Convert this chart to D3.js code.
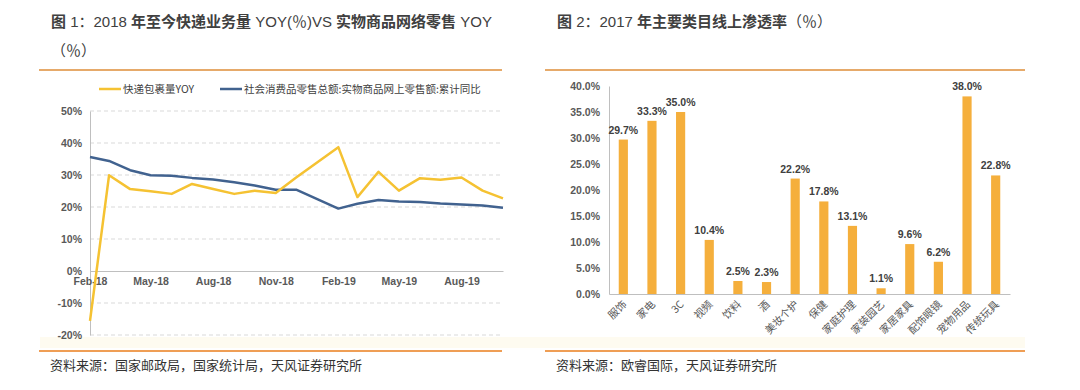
<!DOCTYPE html>
<html>
<head>
<meta charset="utf-8">
<script src="https://cdn.jsdelivr.net/npm/d3@7"></script>
<style>
  body { margin: 0; background: #fff; }
  svg { display: block; font-family: "Liberation Sans", "Noto Sans CJK SC", sans-serif; }
</style>
</head>
<body>
<svg id="chart" width="1080" height="390"></svg>
<script>
// figure 1 data (Jan-19 is not reported, Jan-Feb combined)
const months = ['Feb-18','Mar-18','Apr-18','May-18','Jun-18','Jul-18','Aug-18','Sep-18','Oct-18','Nov-18','Dec-18',
                'Feb-19','Mar-19','Apr-19','May-19','Jun-19','Jul-19','Aug-19','Sep-19','Oct-19'];
const expressYoY = [-15.6, 29.9, 25.6, 24.9, 24.1, 27.2, 25.6, 24.1, 25.1, 24.4, 29.2,
                    38.7, 23.1, 31.0, 25.1, 29.0, 28.5, 29.2, 25.1, 22.7];
const onlineRetailYoY = [35.6, 34.4, 31.5, 29.9, 29.8, 29.1, 28.6, 27.7, 26.7, 25.4, 25.4,
                         19.5, 21.0, 22.2, 21.7, 21.6, 21.1, 20.8, 20.5, 19.8];
const lineTicks = ['Feb-18','May-18','Aug-18','Nov-18','Feb-19','May-19','Aug-19'];
const lineYTicks = [-20, -10, 0, 10, 20, 30, 40, 50];
const seriesNames = ['快递包裹量YOY', '社会消费品零售总额:实物商品网上零售额:累计同比'];

// figure 2 data
const categories = ['服饰','家电','3C','视频','饮料','酒','美妆个护','保健','家庭护理','家装园艺','家居家具','配饰眼镜','宠物用品','传统玩具'];
const penetration = [29.7, 33.3, 35.0, 10.4, 2.5, 2.3, 22.2, 17.8, 13.1, 1.1, 9.6, 6.2, 38.0, 22.8];
const barYTicks = [0, 5, 10, 15, 20, 25, 30, 35, 40];

const YELLOW = '#F5C232', BLUE = '#41628F', BAR = '#F5AF3C';
const TEXT = '#404040', AXIS_TEXT = '#595959';

const svg = d3.select('#chart');

// soft band near the bottom of the plots
svg.append('rect').attr('x', 40).attr('y', 337).attr('width', 985).attr('height', 11).attr('fill', '#FEFBF0');

// titles, mixed weight like the source (CJK bold, latin regular)
function title(x, y, parts) {
    const t = svg.append('text').attr('x', x).attr('y', y)
        .attr('font-size', 15).attr('fill', TEXT);
    parts.forEach(([s, bold]) => {
        t.append('tspan').text(s)
            .attr('font-family', bold ? '"Noto Sans CJK SC", sans-serif' : '"Liberation Sans", "Noto Sans CJK SC", sans-serif')
            .attr('font-weight', bold ? 700 : 400);
    });
}
title(51, 27, [['图', true], [' 1：2018 ', false], ['年至今快递业务量', true], [' YOY(％)VS ', false], ['实物商品网络零售', true], [' YOY', false]]);
title(51, 56, [['（％）', false]]);
title(557, 27, [['图', true], [' 2：2017 ', false], ['年主要类目线上渗透率', true], ['（％）', false]]);

// rules
[[39, 502], [545, 1025]].forEach(([a, b]) => {
    svg.append('line').attr('x1', a).attr('x2', b).attr('y1', 70).attr('y2', 70)
        .attr('stroke', '#E6AA6A').attr('stroke-width', 2);
    svg.append('line').attr('x1', a).attr('x2', b).attr('y1', 351).attr('y2', 351)
        .attr('stroke', '#EF9E55').attr('stroke-width', 2);
});
const src = svg.append('g').attr('font-size', 13).attr('fill', '#333')
    .attr('font-family', '"Noto Sans CJK SC", sans-serif');
src.append('text').attr('x', 50).attr('y', 370).text('资料来源：国家邮政局，国家统计局，天风证券研究所');
src.append('text').attr('x', 556).attr('y', 370).text('资料来源：欧睿国际，天风证券研究所');

// ---------- figure 1: line chart ----------
const parseMonth = d3.timeParse('%b-%y');
const xTime = d3.scaleTime()
    .domain(d3.extent(months, parseMonth))
    .range([90, 503]);
const yLine = d3.scaleLinear().domain([-20, 50]).range([335, 111]);

// dashed grid
svg.append('g').selectAll('line').data(lineYTicks.filter(d => d !== 0)).join('line')
    .attr('x1', 90).attr('x2', 503)
    .attr('y1', d => yLine(d)).attr('y2', d => yLine(d))
    .attr('stroke', '#D9D9D9').attr('stroke-dasharray', '4,3');

const yAxisL = svg.append('g').attr('transform', 'translate(90,0)')
    .call(d3.axisLeft(yLine).tickValues(lineYTicks).tickSize(0).tickPadding(8).tickFormat(d => d + '%'));
yAxisL.select('.domain').attr('stroke', '#BFBFBF');
yAxisL.selectAll('text').attr('font-size', 10.5).attr('font-weight', 700).attr('fill', AXIS_TEXT)
    .attr('font-family', '"Liberation Sans", sans-serif');

const xAxisL = svg.append('g').attr('transform', `translate(0,${yLine(0)})`)
    .call(d3.axisBottom(xTime).tickValues(lineTicks.map(parseMonth)).tickSize(0).tickPadding(7)
        .tickFormat(d3.timeFormat('%b-%y')));
xAxisL.select('.domain').attr('stroke', '#BFBFBF');
xAxisL.selectAll('text').attr('font-size', 10.5).attr('font-weight', 700).attr('fill', AXIS_TEXT)
    .attr('font-family', '"Liberation Sans", sans-serif');

const line = d3.line()
    .x((d, i) => xTime(parseMonth(months[i])))
    .y(d => yLine(d));
svg.append('path').attr('d', line(onlineRetailYoY))
    .attr('fill', 'none').attr('stroke', BLUE).attr('stroke-width', 2.5).attr('stroke-linejoin', 'round');
svg.append('path').attr('d', line(expressYoY))
    .attr('fill', 'none').attr('stroke', YELLOW).attr('stroke-width', 2.5).attr('stroke-linejoin', 'round');

// legend
const legend = svg.append('g').attr('font-size', 10.5).attr('fill', TEXT)
    .attr('font-family', '"Noto Sans CJK SC", sans-serif');
[[99, YELLOW, seriesNames[0]], [220, BLUE, seriesNames[1]]].forEach(([x, c, name]) => {
    legend.append('line').attr('x1', x).attr('x2', x + 22).attr('y1', 89).attr('y2', 89)
        .attr('stroke', c).attr('stroke-width', 2.5);
    legend.append('text').attr('x', x + 24).attr('y', 93).text(name);
});

// ---------- figure 2: bar chart ----------
const xBand = d3.scaleBand().domain(categories).range([609, 1010])
    .paddingInner(0.68).paddingOuter(0.34);
const yBar = d3.scaleLinear().domain([0, 40]).range([294, 86]);

const yAxisR = svg.append('g').attr('transform', 'translate(609,0)')
    .call(d3.axisLeft(yBar).tickValues(barYTicks).tickSize(0).tickPadding(9).tickFormat(d => d.toFixed(1) + '%'));
yAxisR.select('.domain').attr('stroke', '#BFBFBF');
yAxisR.selectAll('text').attr('font-size', 10.5).attr('font-weight', 700).attr('fill', AXIS_TEXT)
    .attr('font-family', '"Liberation Sans", sans-serif');

svg.append('g').selectAll('rect').data(penetration).join('rect')
    .attr('x', (d, i) => xBand(categories[i]))
    .attr('y', d => yBar(d))
    .attr('width', xBand.bandwidth())
    .attr('height', d => yBar(0) - yBar(d))
    .attr('fill', BAR);

const xAxisR = svg.append('g').attr('transform', `translate(0,${yBar(0)})`)
    .call(d3.axisBottom(xBand).tickSize(0).tickPadding(0));
xAxisR.select('.domain').attr('stroke', '#BFBFBF');
xAxisR.selectAll('text')
    .attr('font-size', 10.5).attr('fill', AXIS_TEXT)
    .attr('font-family', '"Noto Sans CJK SC", sans-serif')
    .attr('text-anchor', 'end')
    .attr('dy', 0)
    .attr('transform', 'translate(4,11) rotate(-45)');

svg.append('g').selectAll('text').data(penetration).join('text')
    .attr('x', (d, i) => xBand(categories[i]) + xBand.bandwidth() / 2)
    .attr('y', d => yBar(d) - 6)
    .attr('text-anchor', 'middle')
    .attr('font-size', 10.5).attr('font-weight', 700).attr('fill', TEXT)
    .attr('font-family', '"Liberation Sans", sans-serif')
    .text(d => d.toFixed(1) + '%');
</script>
</body>
</html>
